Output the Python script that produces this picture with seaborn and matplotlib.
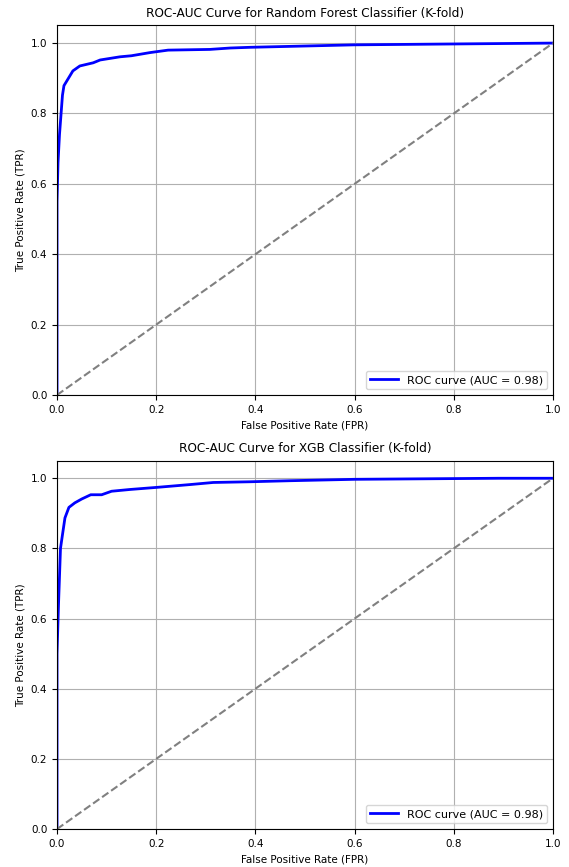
import numpy as np
import pandas as pd
import matplotlib
matplotlib.use("Agg")
import matplotlib.pyplot as plt
import seaborn as sns

# ROC points (FPR, TPR)
rf_fpr = [0.0, 0.0, 0.002, 0.005, 0.011, 0.014, 0.023, 0.032, 0.046, 0.073, 0.087,
          0.127, 0.15, 0.1875, 0.224, 0.308, 0.349, 0.389, 0.6, 1.0]
rf_tpr = [0.0, 0.55, 0.66, 0.74, 0.852, 0.879, 0.90, 0.921, 0.935, 0.944, 0.952,
          0.961, 0.964, 0.973, 0.980, 0.982, 0.986, 0.988, 0.995, 1.0]
rf_auc = 0.98

xgb_fpr = [0.0, 0.0, 0.003, 0.007, 0.011, 0.016, 0.024, 0.036, 0.05, 0.068, 0.09,
           0.11, 0.147, 0.201, 0.268, 0.315, 0.389, 0.47, 0.6, 0.89, 1.0]
xgb_tpr = [0.0, 0.5, 0.64, 0.80, 0.839, 0.887, 0.917, 0.93, 0.941, 0.953, 0.953,
           0.963, 0.968, 0.974, 0.982, 0.988, 0.990, 0.993, 0.997, 1.0, 1.0]
xgb_auc = 0.98

titles = ['ROC-AUC Curve for Random Forest Classifier (K-fold)',
          'ROC-AUC Curve for XGB Classifier (K-fold)']

fig = plt.figure(figsize=(5.69, 8.67), dpi=100)
ax1 = fig.add_axes([0.1002, 0.5444, 0.8717, 0.4262])
ax2 = fig.add_axes([0.1002, 0.0438, 0.8717, 0.4248])

curves = [(rf_fpr, rf_tpr, rf_auc), (xgb_fpr, xgb_tpr, xgb_auc)]
for ax, (fpr, tpr, auc), title in zip([ax1, ax2], curves, titles):
    df = pd.DataFrame({'fpr': fpr, 'tpr': tpr})
    sns.lineplot(data=df, x='fpr', y='tpr', sort=False, estimator=None, ax=ax,
                 color='blue', lw=2, label=f'ROC curve (AUC = {auc:.2f})')
    sns.lineplot(x=[0, 1], y=[0, 1], ax=ax, color='gray', linestyle='--', lw=1.5)
    ax.set_xlim(0, 1)
    ax.set_ylim(0, 1.05)
    ax.set_title(title, fontsize=8.7)
    ax.set_xlabel('False Positive Rate (FPR)', fontsize=7.5)
    ax.set_ylabel('True Positive Rate (TPR)', fontsize=7.5)
    ax.tick_params(labelsize=7.5)
    ax.grid(True)
    ax.legend(loc='lower right', fontsize=8, handlelength=2.5)

fig.savefig('out.png', dpi=100)
